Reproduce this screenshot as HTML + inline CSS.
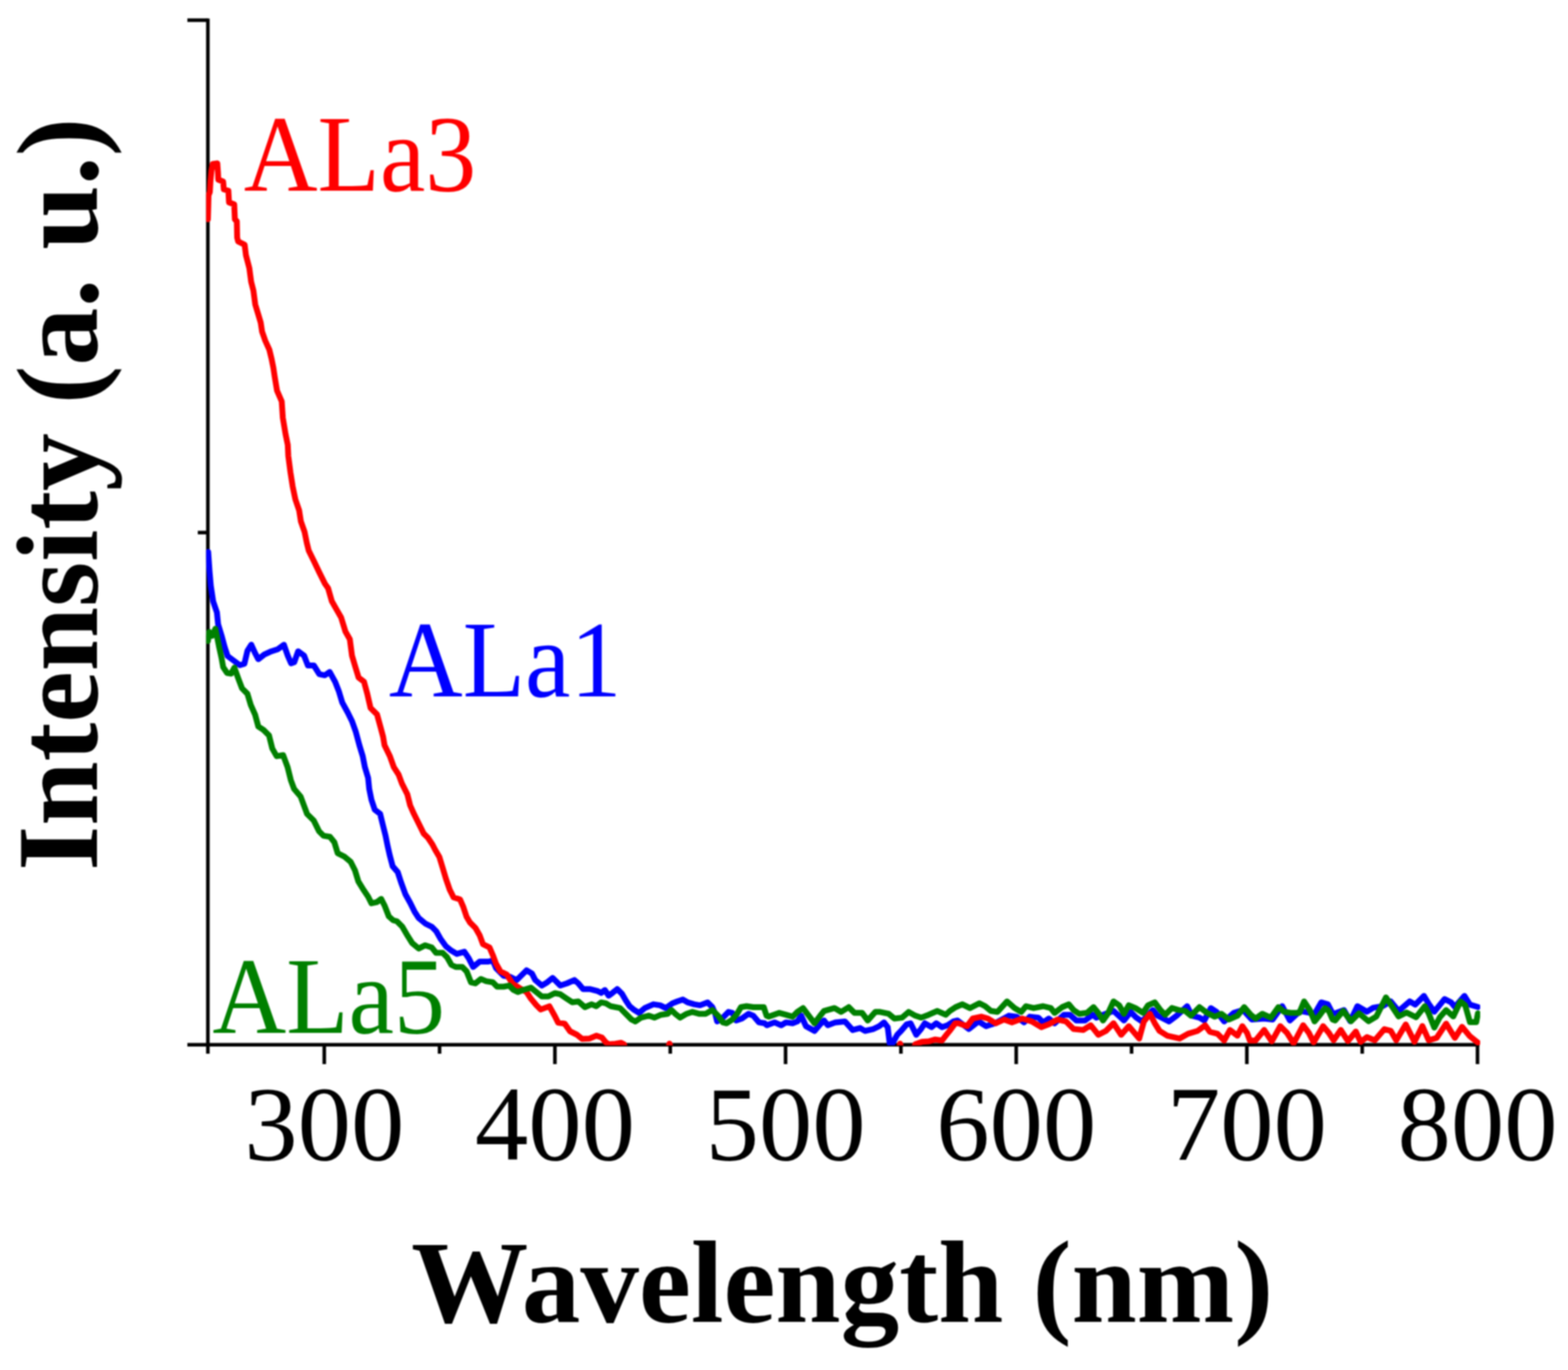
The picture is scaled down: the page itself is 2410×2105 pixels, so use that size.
<!DOCTYPE html>
<html><head><meta charset="utf-8"><title>Intensity vs Wavelength</title>
<style>
html,body{margin:0;padding:0;background:#fff;}
body{width:2410px;height:2105px;overflow:hidden;}
svg{display:block;filter:blur(1px);}
text{font-family:"Liberation Serif","Times New Roman",serif;}
</style></head><body>
<svg width="2410" height="2105" viewBox="0 0 2410 2105">
<rect width="2410" height="2105" fill="#fff"/>
<defs><clipPath id="pc"><rect x="316.8" y="0" width="1958.2" height="1606.3"/></clipPath></defs>

<g stroke="#000" stroke-width="5.5" fill="none" stroke-linecap="butt">
<path d="M319.5,28.5 L319.5,1608.05"/>
<path d="M288,1605.3 L2273.9,1605.3"/>
<path d="M288,31 L319.5,31"/>
<path d="M304,818.3 L319.5,818.3"/>
<path d="M319.5,1605.3 L319.5,1619"/>
<path d="M498.4,1605.3 L498.4,1635"/>
<path d="M675.6,1605.3 L675.6,1619"/>
<path d="M852.9,1605.3 L852.9,1635"/>
<path d="M1030.2,1605.3 L1030.2,1619"/>
<path d="M1207.4,1605.3 L1207.4,1635"/>
<path d="M1384.7,1605.3 L1384.7,1619"/>
<path d="M1561.9,1605.3 L1561.9,1635"/>
<path d="M1739.2,1605.3 L1739.2,1619"/>
<path d="M1916.4,1605.3 L1916.4,1635"/>
<path d="M2093.7,1605.3 L2093.7,1619"/>
<path d="M2270.9,1605.3 L2270.9,1635"/>
</g>
<g clip-path="url(#pc)" fill="none" stroke-width="9" stroke-linejoin="round" stroke-linecap="round">
<path stroke="#0000ff" d="M320.0,848.0 L322.0,877.0 L324.0,900.0 L327.6,924.0 L333.4,941.0 L335.2,959.0 L340.5,976.5 L345.2,994.0 L349.8,1008.0 L359.2,1015.0 L368.6,1022.0 L375.6,1020.0 L380.3,1000.0 L386.2,990.6 L392.0,1003.4 L397.0,1012.8 L406.3,1005.7 L417.2,1000.7 L427.2,997.4 L436.4,990.7 L442.3,1007.4 L447.3,1019.1 L452.3,1017.5 L458.2,1000.7 L467.4,1007.4 L473.2,1022.5 L482.4,1022.5 L490.8,1035.9 L499.2,1037.6 L506.7,1032.5 L515.1,1047.6 L521.0,1062.7 L526.0,1079.4 L534.3,1094.5 L541.0,1107.9 L546.9,1124.6 L552.4,1145.1 L557.5,1161.9 L560.8,1178.6 L565.8,1195.3 L567.5,1212.1 L570.9,1228.8 L575.9,1243.9 L584.3,1250.6 L588.4,1267.3 L592.6,1284.1 L596.0,1300.8 L599.0,1314.0 L603.5,1331.0 L611.3,1340.0 L616.4,1355.6 L623.1,1374.0 L630.6,1387.5 L637.3,1401.0 L643.5,1410.5 L653.6,1418.9 L663.6,1423.9 L670.3,1430.6 L677.0,1442.3 L685.4,1454.0 L693.8,1460.7 L702.1,1465.7 L713.8,1462.4 L720.5,1472.4 L727.2,1485.8 L737.3,1477.5 L750.7,1477.5 L757.4,1475.8 L762.4,1487.5 L774.1,1499.2 L784.2,1500.9 L794.2,1505.9 L809.3,1490.9 L817.6,1495.9 L822.7,1505.9 L832.7,1514.3 L841.1,1509.3 L849.5,1502.6 L861.2,1514.3 L871.2,1511.0 L882.9,1505.9 L888.8,1510.9 L896.1,1519.7 L906.3,1519.7 L918.0,1522.6 L923.9,1525.6 L929.7,1521.2 L935.6,1529.9 L941.4,1525.6 L948.7,1519.7 L956.0,1527.0 L961.9,1537.3 L967.7,1546.0 L975.0,1551.9 L982.3,1556.3 L991.1,1548.9 L1004.3,1543.1 L1014.5,1544.6 L1023.3,1548.9 L1033.5,1541.6 L1040.8,1538.7 L1049.6,1535.8 L1056.9,1540.2 L1067.1,1543.1 L1075.9,1544.6 L1087.6,1540.2 L1094.9,1547.5 L1099.3,1557.7 L1102.2,1569.4 L1111.0,1563.6 L1119.8,1554.8 L1125.6,1556.3 L1131.5,1568.0 L1140.2,1565.0 L1150.5,1557.7 L1157.8,1560.6 L1166.5,1570.9 L1175.3,1572.3 L1178.8,1575.3 L1190.5,1570.9 L1200.7,1575.3 L1208.0,1570.9 L1218.2,1572.3 L1225.6,1569.4 L1231.4,1560.6 L1238.7,1576.7 L1251.9,1584.0 L1260.6,1573.8 L1266.5,1568.0 L1272.3,1575.3 L1284.0,1570.9 L1298.7,1569.4 L1310.4,1582.6 L1322.0,1579.6 L1329.4,1584.0 L1342.5,1581.1 L1351.3,1576.7 L1358.6,1570.9 L1364.4,1578.2 L1367.4,1603.0 L1371.8,1603.0 L1379.1,1589.9 L1384.9,1584.0 L1393.7,1573.8 L1399.5,1572.3 L1408.3,1589.9 L1415.6,1581.1 L1421.5,1572.3 L1431.7,1578.2 L1439.0,1572.3 L1447.8,1578.2 L1456.5,1575.3 L1465.3,1569.4 L1471.7,1568.0 L1489.2,1581.1 L1503.9,1569.4 L1515.6,1576.7 L1530.0,1572.0 L1550.6,1560.6 L1562.3,1562.1 L1574.0,1570.9 L1582.8,1562.1 L1596.0,1563.6 L1603.3,1570.9 L1612.0,1565.0 L1620.8,1572.3 L1635.4,1559.2 L1644.2,1559.2 L1654.4,1568.0 L1667.6,1568.0 L1679.3,1559.2 L1685.1,1563.6 L1695.4,1559.2 L1711.5,1553.3 L1727.5,1568.0 L1737.8,1554.8 L1746.5,1563.6 L1755.3,1569.4 L1771.9,1551.9 L1779.2,1560.6 L1796.8,1569.4 L1808.5,1560.6 L1824.6,1546.0 L1831.9,1560.6 L1843.6,1563.6 L1850.9,1568.0 L1861.1,1549.0 L1869.9,1554.8 L1881.6,1569.4 L1896.2,1556.3 L1910.8,1551.9 L1924.0,1566.5 L1943.0,1565.0 L1956.1,1566.5 L1970.8,1546.0 L1982.5,1568.0 L1998.5,1553.3 L2020.5,1557.7 L2030.7,1540.2 L2040.9,1543.1 L2048.2,1557.0 L2052.2,1557.0 L2065.6,1552.1 L2075.3,1569.1 L2086.3,1546.0 L2100.9,1554.5 L2110.7,1548.4 L2125.3,1546.0 L2137.5,1538.7 L2149.6,1553.3 L2166.7,1538.7 L2175.2,1543.6 L2188.6,1530.2 L2195.9,1542.3 L2204.5,1554.5 L2220.3,1535.0 L2230.1,1539.9 L2236.1,1547.2 L2250.8,1530.2 L2259.3,1543.6 L2271.5,1547.2"/>
<path stroke="#ff0000" d="M319.5,337.0 L320.0,320.0 L320.5,300.0 L322.5,295.0 L323.5,278.0 L325.0,262.0 L327.0,252.0 L334.0,251.0 L335.0,265.0 L335.5,276.0 L343.0,279.0 L344.0,291.0 L351.0,293.0 L352.0,311.0 L360.0,314.0 L361.0,337.0 L364.0,340.0 L364.5,365.0 L366.0,371.0 L376.0,376.0 L378.0,392.0 L383.2,411.9 L386.0,432.8 L389.5,446.7 L392.3,467.7 L396.5,481.6 L400.7,495.6 L402.8,509.5 L407.7,523.5 L414.0,537.4 L417.4,551.4 L420.2,565.3 L422.3,579.3 L425.8,600.2 L433.0,616.7 L434.7,641.9 L438.9,667.0 L442.3,683.7 L443.1,700.5 L446.4,725.6 L449.8,747.3 L454.0,767.4 L459.8,784.2 L462.4,800.9 L468.2,817.6 L471.6,834.4 L474.5,846.0 L482.4,862.0 L491.0,880.0 L499.5,897.0 L504.2,903.6 L510.0,923.7 L517.6,937.1 L524.3,948.8 L531.0,970.6 L537.7,982.3 L541.0,1007.4 L546.0,1024.2 L551.1,1040.9 L559.5,1047.6 L564.5,1066.0 L569.5,1087.8 L579.5,1097.8 L584.6,1116.2 L588.8,1132.0 L591.0,1145.1 L599.3,1161.9 L605.2,1178.6 L612.7,1190.3 L617.7,1203.7 L626.1,1220.5 L630.3,1237.2 L636.2,1250.6 L642.9,1264.0 L651.2,1280.7 L657.9,1287.4 L664.6,1297.5 L669.0,1306.0 L675.3,1316.7 L680.4,1333.5 L685.4,1350.2 L691.2,1367.0 L697.1,1378.7 L707.1,1382.0 L712.2,1393.8 L717.2,1408.8 L722.2,1417.2 L730.6,1425.6 L737.3,1437.3 L742.3,1450.7 L752.4,1455.7 L757.4,1467.4 L762.4,1480.8 L769.1,1492.5 L779.1,1497.6 L787.5,1511.0 L797.6,1517.6 L809.3,1524.3 L816.0,1534.4 L824.3,1544.4 L831.0,1551.1 L844.4,1546.1 L852.8,1561.2 L857.8,1571.2 L867.9,1572.9 L876.2,1584.6 L886.3,1589.6 L894.7,1596.3 L906.3,1595.7 L916.5,1591.3 L925.3,1594.3 L931.2,1601.6 L935.6,1604.5 L945.8,1603.8 L954.6,1602.3 L959.0,1604.5 L966.0,1625.0 L1000.0,1625.0 L1022.0,1625.0 L1029.0,1603.5 L1036.0,1625.0 L1377.0,1625.0 L1383.5,1603.5 L1390.0,1625.0 L1401.0,1620.0 L1406.8,1604.5 L1417.1,1600.8 L1427.3,1600.1 L1437.5,1597.2 L1447.8,1598.7 L1453.6,1591.3 L1459.5,1584.0 L1468.2,1572.3 L1473.2,1572.3 L1486.3,1576.7 L1495.1,1565.0 L1508.2,1562.1 L1518.5,1565.0 L1530.2,1572.3 L1543.3,1566.5 L1555.0,1570.9 L1571.1,1565.0 L1585.7,1569.4 L1600.4,1578.2 L1612.0,1573.8 L1625.2,1566.5 L1638.4,1569.4 L1650.1,1581.1 L1664.7,1582.6 L1676.4,1575.3 L1688.1,1589.9 L1699.8,1584.0 L1711.5,1572.3 L1723.2,1589.9 L1734.9,1576.7 L1750.9,1595.7 L1758.2,1569.4 L1767.5,1557.7 L1774.9,1572.3 L1782.2,1584.0 L1793.9,1591.3 L1812.9,1595.7 L1826.0,1588.4 L1840.6,1584.0 L1852.3,1575.3 L1859.6,1585.5 L1871.3,1588.4 L1881.6,1598.7 L1890.4,1582.6 L1902.0,1591.3 L1909.4,1576.7 L1916.7,1587.0 L1921.0,1598.7 L1929.8,1598.7 L1943.0,1582.6 L1954.7,1600.1 L1967.8,1576.7 L1978.1,1587.0 L1988.3,1603.0 L2002.9,1575.3 L2011.7,1587.0 L2019.0,1601.6 L2033.6,1576.7 L2042.4,1587.0 L2049.7,1598.4 L2060.7,1582.5 L2071.7,1599.6 L2083.9,1585.0 L2091.2,1600.8 L2100.9,1593.5 L2113.1,1598.4 L2127.7,1581.3 L2137.5,1583.8 L2146.0,1598.4 L2160.6,1574.0 L2174.0,1600.8 L2186.2,1576.5 L2195.9,1598.4 L2208.1,1594.7 L2222.7,1572.8 L2236.1,1594.7 L2247.1,1577.7 L2259.3,1592.3 L2271.5,1602.0"/>
<path stroke="#008000" d="M319.5,985.0 L321.5,971.0 L326.0,977.0 L331.0,966.0 L334.0,980.0 L337.0,995.0 L340.5,1011.0 L343.0,1025.0 L349.0,1034.0 L355.2,1035.0 L360.2,1025.8 L366.9,1044.3 L372.0,1057.6 L380.3,1066.0 L385.3,1082.8 L392.0,1097.8 L397.0,1116.2 L405.0,1121.5 L413.5,1130.0 L418.5,1150.1 L425.2,1161.9 L435.2,1160.2 L442.0,1178.6 L447.0,1198.7 L452.0,1212.1 L462.0,1223.8 L467.0,1237.2 L472.0,1250.6 L482.1,1260.6 L490.5,1277.4 L497.2,1284.1 L507.2,1285.7 L513.9,1294.1 L519.0,1310.9 L529.0,1315.9 L539.0,1324.3 L545.7,1337.6 L550.8,1354.4 L559.1,1367.8 L565.8,1377.8 L570.9,1387.9 L579.2,1386.2 L585.9,1381.2 L591.0,1391.2 L597.6,1408.0 L604.3,1414.0 L610.0,1415.5 L618.4,1423.9 L625.1,1435.6 L633.5,1449.0 L643.5,1457.4 L653.6,1452.4 L663.6,1455.7 L670.3,1464.1 L680.4,1464.1 L687.1,1470.8 L693.8,1482.5 L700.5,1485.8 L710.5,1485.8 L717.2,1492.5 L723.9,1509.3 L730.6,1511.0 L739.0,1504.2 L747.3,1507.6 L757.4,1509.3 L764.1,1516.0 L774.1,1516.0 L782.5,1514.3 L789.2,1521.0 L795.9,1524.3 L804.3,1521.0 L816.0,1517.6 L824.3,1524.3 L832.7,1531.0 L842.8,1531.0 L852.8,1526.0 L861.2,1527.7 L871.2,1534.4 L879.6,1540.0 L888.8,1538.7 L899.0,1547.5 L909.2,1543.1 L916.5,1546.0 L923.9,1540.2 L931.2,1541.6 L938.5,1546.0 L953.1,1548.9 L961.9,1557.7 L970.6,1566.5 L976.5,1569.4 L985.3,1563.6 L997.0,1560.6 L1005.7,1563.6 L1016.0,1559.2 L1026.2,1557.7 L1032.0,1551.9 L1037.9,1557.7 L1045.2,1563.6 L1055.4,1557.7 L1064.2,1554.8 L1074.4,1557.7 L1084.7,1557.7 L1094.9,1551.9 L1103.7,1560.6 L1111.0,1570.9 L1116.8,1572.3 L1125.6,1566.5 L1132.9,1557.7 L1138.8,1547.5 L1147.5,1546.0 L1157.8,1547.5 L1166.5,1547.5 L1173.9,1547.5 L1178.2,1560.6 L1181.7,1562.1 L1197.8,1556.3 L1208.0,1559.2 L1218.2,1562.1 L1225.6,1554.8 L1234.3,1548.9 L1243.1,1560.6 L1251.9,1572.3 L1260.6,1560.6 L1266.5,1553.3 L1282.6,1548.9 L1292.8,1554.8 L1304.5,1547.5 L1313.3,1556.3 L1325.0,1556.3 L1333.7,1568.0 L1345.4,1554.8 L1352.7,1554.8 L1365.9,1557.7 L1374.7,1565.0 L1386.4,1563.6 L1396.6,1554.8 L1406.8,1560.6 L1415.6,1563.6 L1427.3,1559.2 L1440.5,1553.3 L1453.6,1559.2 L1460.0,1553.3 L1468.8,1547.5 L1479.0,1543.1 L1490.7,1548.9 L1505.3,1541.6 L1514.1,1546.0 L1522.9,1553.3 L1533.1,1554.8 L1547.7,1538.7 L1559.4,1548.9 L1569.6,1554.8 L1577.0,1546.0 L1588.7,1548.9 L1603.3,1546.0 L1615.0,1548.9 L1620.8,1556.3 L1632.5,1547.5 L1642.7,1543.1 L1650.1,1551.9 L1658.8,1557.7 L1670.5,1556.3 L1680.8,1547.5 L1688.1,1556.3 L1695.4,1568.0 L1702.7,1557.7 L1711.5,1538.7 L1720.2,1544.6 L1727.5,1557.7 L1734.9,1544.6 L1745.1,1548.9 L1756.8,1556.3 L1764.6,1544.6 L1774.9,1540.2 L1783.6,1551.9 L1790.9,1559.2 L1801.2,1548.9 L1811.4,1551.9 L1821.6,1553.3 L1830.4,1560.6 L1843.6,1547.5 L1855.3,1556.3 L1867.0,1562.1 L1877.2,1557.7 L1888.9,1566.5 L1902.0,1560.6 L1912.3,1547.5 L1922.5,1559.2 L1929.8,1565.0 L1940.1,1557.7 L1953.2,1563.6 L1964.9,1547.5 L1973.7,1554.8 L1983.9,1556.3 L1997.1,1556.3 L2004.4,1538.7 L2013.2,1551.9 L2020.5,1569.4 L2027.8,1560.6 L2036.5,1548.9 L2042.4,1553.3 L2048.2,1566.5 L2052.2,1567.9 L2064.4,1553.3 L2076.5,1569.1 L2088.7,1557.0 L2103.4,1569.1 L2115.5,1561.8 L2130.2,1532.6 L2137.5,1543.6 L2149.6,1561.8 L2161.8,1555.7 L2176.5,1563.0 L2189.9,1546.0 L2195.9,1557.0 L2204.5,1578.9 L2213.0,1563.0 L2222.7,1552.1 L2233.7,1561.8 L2244.7,1538.7 L2252.0,1544.8 L2259.3,1570.4 L2269.0,1570.4 L2271.5,1557.0"/>
</g>
<g font-size="164" text-anchor="middle" fill="#000">
<text x="498.4" y="1782">300</text>
<text x="852.9" y="1782">400</text>
<text x="1207.4" y="1782">500</text>
<text x="1561.9" y="1782">600</text>
<text x="1916.4" y="1782">700</text>
<text x="2270.9" y="1782">800</text>
</g>
<text x="632" y="2031" font-size="180" font-weight="bold" fill="#000">Wavelength (nm)</text>
<text transform="translate(149,1338) rotate(-90)" x="0" y="0" font-size="178" font-weight="bold" fill="#000">Intensity (a. u.)</text>
<text transform="translate(374.7,292.6) scale(0.94,1)" font-size="167" fill="#ff0000">ALa3</text>
<text transform="translate(597.8,1069.7) scale(0.94,1)" font-size="167" fill="#0000ff">ALa1</text>
<text transform="translate(326.6,1587.2) scale(0.94,1)" font-size="167" fill="#008000">ALa5</text>
</svg></body></html>
